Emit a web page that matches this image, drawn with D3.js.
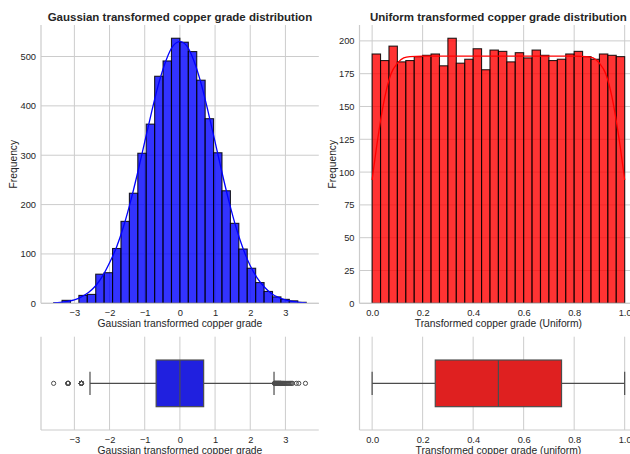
<!DOCTYPE html>
<html>
<head>
<meta charset="utf-8">
<script src="https://cdn.jsdelivr.net/npm/d3@7"></script>
<style>
  html, body { margin: 0; padding: 0; background: #fff; }
  svg { display: block; font-family: "Liberation Sans", Arial, sans-serif; }
</style>
</head>
<body>
<svg id="chart" width="630" height="454"></svg>
<script>
// ---- Gaussian-transformed grade: histogram (30 bins over the data range) ----
const gaussRange = [-3.59, 3.59];
const gaussCounts = [1, 6, 0, 16, 18, 59, 62, 111, 166, 223, 304, 363, 460, 491, 537,
                     529, 510, 452, 374, 305, 228, 162, 110, 71, 42, 24, 13, 8, 5, 2];
// KDE curve (count scale)
const gaussKdeX = [-3.59, -3.4, -3.2, -3.0, -2.8, -2.6, -2.4, -2.2, -2.0, -1.8, -1.6, -1.4, -1.2, -1.0,
                   -0.8, -0.6, -0.4, -0.2, 0, 0.2, 0.4, 0.6, 0.8, 1.0, 1.2, 1.4, 1.6, 1.8,
                   2.0, 2.2, 2.4, 2.6, 2.8, 3.0, 3.2, 3.4, 3.59];
const gaussKdeY = [1, 2, 4, 7, 13, 22, 35, 55, 82, 114, 156, 207, 265, 327,
                   389, 446, 491, 521, 530, 521, 491, 446, 389, 327, 264, 205, 153, 110,
                   76, 51, 33, 20, 12, 7, 4, 2, 1];
// Box plot summary
const gaussBox = { q1: -0.675, median: 0, q3: 0.675, low: -2.556, high: 2.676 };
const gaussFliers = [-3.59, -3.18, -2.80, 2.69, 2.71, 2.73, 2.75, 2.77, 2.79, 2.81, 2.83, 2.85,
                     2.87, 2.90, 2.93, 2.96, 2.99, 3.02, 3.05, 3.08, 3.11, 3.14, 3.17, 3.20,
                     3.31, 3.38, 3.57];
const gaussFlierCounts = [1, 6, 16, 2, 2, 2, 2, 2, 2, 2, 2, 2,
                          2, 2, 2, 2, 1, 1, 1, 1, 1, 1, 1, 1,
                          1, 1, 1];

// ---- Uniform-transformed grade ----
const unifRange = [0, 1];
const unifCounts = [190, 185, 196, 184, 185, 188, 189, 190, 181, 202,
                    183, 186, 194, 178, 193, 192, 184, 191, 187, 193,
                    189, 185, 186, 190, 192, 188, 186, 190, 189, 188];
const unifKdeX = [0, 0.025, 0.05, 0.075, 0.1, 0.125, 0.15, 0.2, 0.3, 0.4, 0.5, 0.6, 0.7, 0.8,
                  0.85, 0.875, 0.9, 0.925, 0.95, 0.975, 1];
const unifKdeY = [94, 129, 157, 175, 183, 187, 188, 188.4, 188.4, 188.4, 188.4, 188.4, 188.4, 188.4,
                  188, 187, 183, 175, 157, 129, 94];
const unifBox = { q1: 0.25, median: 0.5, q3: 0.75, low: 0, high: 1 };

// ---- Tick labels ----
const gaussTicks = [-3, -2, -1, 0, 1, 2, 3];
const gaussCountTicks = [0, 100, 200, 300, 400, 500];
const unifTicks = [0, 0.2, 0.4, 0.6, 0.8, 1.0];
const unifCountTicks = [0, 25, 50, 75, 100, 125, 150, 175, 200];

const svg = d3.select("#chart");
const GRID = "#cccccc", TEXT = "#262626", LINE = "#4c4c4c";
const histTop = 25, histBottom = 303.3, boxTop = 336.7, boxBottom = 430;

function padDomain(r) { const p = (r[1] - r[0]) * 0.05; return [r[0] - p, r[1] + p]; }
const fmtMinus = d => (d < 0 ? "\u2212" + Math.abs(d) : String(d));

function panel(opt) {
  const x = d3.scaleLinear().domain(padDomain(opt.range)).range([opt.x0, opt.x1]);
  const ymax = d3.max(opt.counts) * 1.05;
  const y = d3.scaleLinear().domain([0, ymax]).range([histBottom, histTop]);
  const g = svg.append("g");

  // grid
  g.selectAll(".gx").data(opt.xticks).join("line")
    .attr("x1", d => x(d)).attr("x2", d => x(d))
    .attr("y1", histTop).attr("y2", histBottom)
    .attr("stroke", GRID).attr("stroke-width", 1);
  g.selectAll(".gy").data(opt.yticks).join("line")
    .attr("x1", opt.x0).attr("x2", opt.x1)
    .attr("y1", d => y(d)).attr("y2", d => y(d))
    .attr("stroke", GRID).attr("stroke-width", 1);

  // bars
  const n = opt.counts.length;
  const w = (opt.range[1] - opt.range[0]) / n;
  g.selectAll(".bar").data(opt.counts).join("rect")
    .attr("x", (d, i) => x(opt.range[0] + i * w))
    .attr("width", (d, i) => x(opt.range[0] + (i + 1) * w) - x(opt.range[0] + i * w))
    .attr("y", d => y(d))
    .attr("height", d => histBottom - y(d))
    .attr("fill", opt.color).attr("fill-opacity", 0.8)
    .attr("stroke", "#000").attr("stroke-opacity", 0.85).attr("stroke-width", 1.1);

  // kde
  const pts = opt.kdeX.map((v, i) => [v, opt.kdeY[i]]);
  g.append("path").datum(pts)
    .attr("d", d3.line().x(d => x(d[0])).y(d => y(d[1])).curve(d3.curveMonotoneX))
    .attr("fill", "none").attr("stroke", opt.lineColor).attr("stroke-width", 1.3);

  // spines
  g.append("line").attr("x1", opt.x0).attr("x2", opt.x0).attr("y1", histTop).attr("y2", histBottom)
    .attr("stroke", GRID).attr("stroke-width", 1.2);
  g.append("line").attr("x1", opt.x0).attr("x2", opt.x1).attr("y1", histBottom).attr("y2", histBottom)
    .attr("stroke", GRID).attr("stroke-width", 1.2);

  // axes
  const ax = g.append("g").attr("transform", `translate(0,${histBottom})`)
    .call(d3.axisBottom(x).tickValues(opt.xticks).tickFormat(opt.xfmt).tickSize(0).tickPadding(6));
  ax.select(".domain").remove();
  const ay = g.append("g").attr("transform", `translate(${opt.x0},0)`)
    .call(d3.axisLeft(y).tickValues(opt.yticks).tickSize(0).tickPadding(5));
  ay.select(".domain").remove();
  [ax, ay].forEach(a => a.selectAll("text").attr("fill", TEXT)
    .style("font-size", "9.3px").style("font-family", "Liberation Sans, Arial, sans-serif"));

  // labels
  g.append("text").attr("x", (opt.x0 + opt.x1) / 2).attr("y", 21)
    .attr("text-anchor", "middle").attr("fill", TEXT)
    .style("font-size", "11.5px").style("font-weight", "bold").text(opt.title);
  g.append("text").attr("x", (opt.x0 + opt.x1) / 2).attr("y", 326.5)
    .attr("text-anchor", "middle").attr("fill", TEXT)
    .style("font-size", "10.3px").text(opt.xlabel);
  g.append("text").attr("transform", `translate(${opt.ylabX},${(histTop + histBottom) / 2}) rotate(-90)`)
    .attr("text-anchor", "middle").attr("fill", TEXT)
    .style("font-size", "10.3px").text("Frequency");

  // ---- box plot below ----
  const b = svg.append("g");
  const cy = (boxTop + boxBottom) / 2;
  const halfH = (boxBottom - boxTop) * 0.25;
  b.selectAll(".bgx").data(opt.xticks).join("line")
    .attr("x1", d => x(d)).attr("x2", d => x(d))
    .attr("y1", boxTop).attr("y2", boxBottom)
    .attr("stroke", GRID).attr("stroke-width", 1);
  const bs = opt.box;
  // whiskers
  b.append("line").attr("x1", x(bs.low)).attr("x2", x(bs.q1)).attr("y1", cy).attr("y2", cy)
    .attr("stroke", LINE).attr("stroke-width", 1.2);
  b.append("line").attr("x1", x(bs.q3)).attr("x2", x(bs.high)).attr("y1", cy).attr("y2", cy)
    .attr("stroke", LINE).attr("stroke-width", 1.2);
  // caps
  [bs.low, bs.high].forEach(v => {
    b.append("line").attr("x1", x(v)).attr("x2", x(v))
      .attr("y1", cy - halfH / 2).attr("y2", cy + halfH / 2)
      .attr("stroke", LINE).attr("stroke-width", 1.2);
  });
  // box
  b.append("rect").attr("x", x(bs.q1)).attr("width", x(bs.q3) - x(bs.q1))
    .attr("y", cy - halfH).attr("height", 2 * halfH)
    .attr("fill", opt.boxColor).attr("stroke", LINE).attr("stroke-width", 1.2);
  b.append("line").attr("x1", x(bs.median)).attr("x2", x(bs.median))
    .attr("y1", cy - halfH).attr("y2", cy + halfH)
    .attr("stroke", LINE).attr("stroke-width", 1.2);
  // fliers (repeated values drawn once per point)
  (opt.fliers || []).forEach((v, i) => {
    for (let k = 0; k < opt.flierCounts[i]; k++) {
      b.append("circle").attr("cx", x(v)).attr("cy", cy).attr("r", 2.1)
        .attr("fill", "none").attr("stroke", LINE).attr("stroke-width", 1);
    }
  });
  // spines
  b.append("line").attr("x1", opt.x0).attr("x2", opt.x0).attr("y1", boxTop).attr("y2", boxBottom)
    .attr("stroke", GRID).attr("stroke-width", 1.2);
  b.append("line").attr("x1", opt.x0).attr("x2", opt.x1).attr("y1", boxBottom).attr("y2", boxBottom)
    .attr("stroke", GRID).attr("stroke-width", 1.2);
  const bx = b.append("g").attr("transform", `translate(0,${boxBottom})`)
    .call(d3.axisBottom(x).tickValues(opt.xticks).tickFormat(opt.xfmt).tickSize(0).tickPadding(6.7));
  bx.select(".domain").remove();
  bx.selectAll("text").attr("fill", TEXT)
    .style("font-size", "9.3px").style("font-family", "Liberation Sans, Arial, sans-serif");
  b.append("text").attr("x", (opt.x0 + opt.x1) / 2).attr("y", 454.3)
    .attr("text-anchor", "middle").attr("fill", TEXT)
    .style("font-size", "10.3px").text(opt.boxLabel);
}

panel({
  x0: 41, x1: 318.8, ylabX: 17,
  range: gaussRange, counts: gaussCounts, kdeX: gaussKdeX, kdeY: gaussKdeY,
  xticks: gaussTicks, yticks: gaussCountTicks, xfmt: fmtMinus,
  color: "#0000ff", lineColor: "#0000ff", boxColor: "#2020df",
  box: gaussBox, fliers: gaussFliers, flierCounts: gaussFlierCounts,
  title: "Gaussian transformed copper grade distribution",
  xlabel: "Gaussian transformed copper grade",
  boxLabel: "Gaussian transformed copper grade"
});
panel({
  x0: 359.5, x1: 637.3, ylabX: 336,
  range: unifRange, counts: unifCounts, kdeX: unifKdeX, kdeY: unifKdeY,
  xticks: unifTicks, yticks: unifCountTicks, xfmt: d3.format(".1f"),
  color: "#ff0000", lineColor: "#ff0000", boxColor: "#df2020",
  box: unifBox, fliers: [], flierCounts: [],
  title: "Uniform transformed copper grade distribution",
  xlabel: "Transformed copper grade (Uniform)",
  boxLabel: "Transformed copper grade (uniform)"
});
</script>
</body>
</html>
